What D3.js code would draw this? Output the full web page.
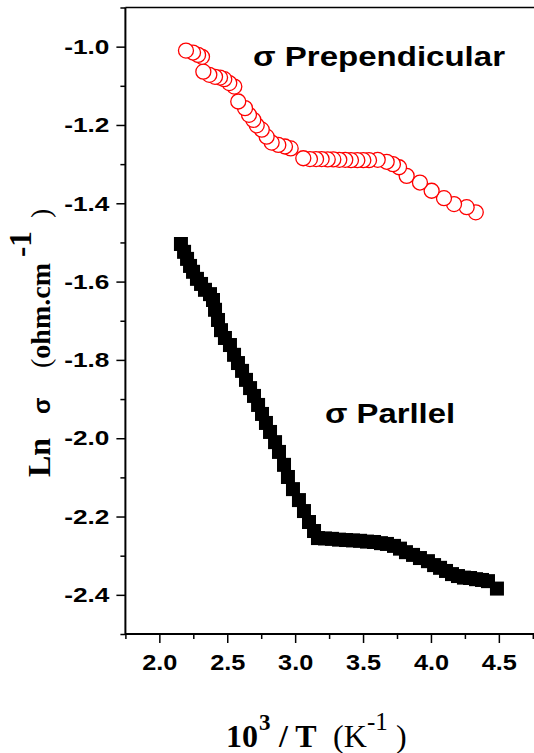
<!DOCTYPE html>
<html><head><meta charset="utf-8">
<script src="https://cdn.jsdelivr.net/npm/d3@7/dist/d3.min.js"></script>
<style>html,body{margin:0;padding:0;background:#fff;}svg{display:block;}</style>
</head><body>
<script>
// ---- data ----
const perpX = [2.196,2.248,2.285,2.314,2.324,2.368,2.410,2.447,2.478,2.515,2.552,2.581,2.631,2.660,2.692,2.717,2.754,2.790,2.827,2.876,2.925,2.967,3.060,3.109,3.154,3.195,3.240,3.281,3.325,3.369,3.411,3.458,3.502,3.544,3.608,3.674,3.720,3.765,3.821,3.919,4.005,4.096,4.170,4.263,4.330];
const perpY = [-1.010,-1.015,-1.021,-1.026,-1.064,-1.072,-1.077,-1.079,-1.083,-1.093,-1.102,-1.140,-1.157,-1.174,-1.187,-1.201,-1.212,-1.230,-1.245,-1.251,-1.255,-1.260,-1.285,-1.287,-1.287,-1.287,-1.288,-1.288,-1.289,-1.289,-1.290,-1.290,-1.290,-1.290,-1.289,-1.294,-1.300,-1.308,-1.330,-1.347,-1.368,-1.387,-1.402,-1.410,-1.423];
const parX = [2.159,2.182,2.204,2.226,2.248,2.277,2.307,2.336,2.373,2.395,2.410,2.432,2.454,2.483,2.520,2.550,2.579,2.609,2.638,2.668,2.697,2.727,2.756,2.785,2.815,2.852,2.881,2.918,2.947,2.984,3.028,3.065,3.102,3.139,3.168,3.220,3.271,3.323,3.375,3.426,3.478,3.529,3.581,3.632,3.676,3.728,3.772,3.816,3.868,3.919,3.978,4.023,4.067,4.111,4.155,4.199,4.243,4.288,4.332,4.376,4.420,4.486];
const parY = [-1.504,-1.524,-1.542,-1.560,-1.575,-1.593,-1.606,-1.621,-1.632,-1.647,-1.672,-1.698,-1.724,-1.744,-1.762,-1.787,-1.808,-1.828,-1.851,-1.872,-1.892,-1.915,-1.938,-1.961,-1.984,-2.010,-2.035,-2.068,-2.099,-2.130,-2.158,-2.186,-2.214,-2.237,-2.255,-2.256,-2.257,-2.259,-2.260,-2.261,-2.262,-2.264,-2.265,-2.268,-2.270,-2.275,-2.282,-2.291,-2.298,-2.306,-2.314,-2.324,-2.331,-2.339,-2.347,-2.352,-2.356,-2.357,-2.360,-2.362,-2.365,-2.384];
const xDomain = [1.75, 4.75];
const yDomain = [-2.5, -0.9];
const xMajorTicks = [2.0, 2.5, 3.0, 3.5, 4.0, 4.5];
const xMinorTicks = [1.75, 2.25, 2.75, 3.25, 3.75, 4.25, 4.75];
const yMajorTicks = [-2.4, -2.2, -2.0, -1.8, -1.6, -1.4, -1.2, -1.0];
const yMinorTicks = [-2.5, -2.3, -2.1, -1.9, -1.7, -1.5, -1.3, -1.1, -0.9];
const labelPerp = "σ Prependicular";
const labelPar = "σ Parllel";

// ---- layout ----
const W = 534, H = 753;
const svg = d3.select("body").append("svg").attr("width", W).attr("height", H)
  .style("font-family", "'Liberation Sans', Arial, sans-serif");
svg.append("rect").attr("width", W).attr("height", H).attr("fill", "#fff");

const x = d3.scaleLinear().domain(xDomain).range([125.4, 532.8]);
const y = d3.scaleLinear().domain(yDomain).range([634, 7.5]);
const fmt = d => d3.format(".1f")(d).replace("\u2212", "-");

// top frame line
svg.append("line").attr("x1", x(xDomain[0])).attr("x2", W).attr("y1", y(yDomain[1])).attr("y2", y(yDomain[1]))
  .attr("stroke", "#000").attr("stroke-width", 1.5);

// x axis
const SXx = 1.15;
const gx = svg.append("g").attr("transform", `translate(0,${y(yDomain[0])})`);
gx.append("g").call(d3.axisBottom(x).tickValues(xMinorTicks).tickSize(5).tickFormat(""))
  .call(g => g.select(".domain").remove());
gx.append("g").call(d3.axisBottom(x).tickValues(xMajorTicks).tickSize(9).tickPadding(11).tickFormat(fmt))
  .call(g => g.select(".domain").remove());
gx.append("line").attr("x1", x(xDomain[0])).attr("x2", W).attr("stroke", "#000").attr("stroke-width", 2);
gx.selectAll(".tick line").attr("stroke-width", 1.5);
gx.selectAll(".tick text").attr("font-size", 22).attr("font-weight", "bold")
  .attr("font-family", "'Liberation Sans', Arial, sans-serif").attr("fill", "#000")
  .attr("dy", "0.71em").attr("transform", `scale(${SXx},1)`);

// y axis
const SXy = 1.25;
const gy = svg.append("g").attr("transform", `translate(${x(xDomain[0])},0)`);
gy.append("g").call(d3.axisLeft(y).tickValues(yMinorTicks).tickSize(5).tickFormat(""))
  .call(g => g.select(".domain").remove());
gy.append("g").call(d3.axisLeft(y).tickValues(yMajorTicks).tickSize(9).tickPadding(16).tickFormat(fmt))
  .call(g => g.select(".domain").remove());
gy.append("line").attr("y1", y(yDomain[0]) + 1).attr("y2", y(yDomain[1])).attr("stroke", "#000").attr("stroke-width", 2);
gy.selectAll(".tick line").attr("stroke-width", 1.5);
gy.selectAll(".tick text").attr("font-size", 21).attr("font-weight", "bold")
  .attr("font-family", "'Liberation Sans', Arial, sans-serif").attr("fill", "#000")
  .attr("x", -16 / SXy).attr("transform", `scale(${SXy},1)`);

// red open circles (Perpendicular)
const perp = perpX.map((v, i) => ({x: v, y: perpY[i]}));
svg.append("g").selectAll("circle").data(perp.slice().reverse()).join("circle")
  .attr("cx", d => x(d.x)).attr("cy", d => y(d.y)).attr("r", 7.5)
  .attr("fill", "#fff").attr("stroke", "#ff0000").attr("stroke-width", 1.3);

// black squares (Parallel)
const par = parX.map((v, i) => ({x: v, y: parY[i]}));
const S = 14;
svg.append("g").selectAll("rect").data(par).join("rect")
  .attr("x", d => x(d.x) - S / 2).attr("y", d => y(d.y) - S / 2)
  .attr("width", S).attr("height", S).attr("fill", "#000");

// annotations
svg.append("text").attr("x", 253).attr("y", 66).attr("font-size", 27).attr("font-weight", "bold")
  .attr("textLength", 252).attr("lengthAdjust", "spacingAndGlyphs").text(labelPerp);
svg.append("text").attr("x", 325).attr("y", 423).attr("font-size", 27).attr("font-weight", "bold")
  .attr("textLength", 130).attr("lengthAdjust", "spacingAndGlyphs").text(labelPar);

// y title
const yt = svg.append("text").attr("transform", "rotate(-90)").attr("y", 50)
  .attr("font-family", "'Liberation Serif', 'Times New Roman', serif").attr("fill", "#000");
yt.append("tspan").attr("x", -477).attr("font-size", 32).attr("font-weight", "bold").text("Ln");
yt.append("tspan").attr("x", -414).attr("font-size", 24).attr("font-weight", "bold")
  .attr("font-family", "'Liberation Sans', Arial, sans-serif").text("σ");
yt.append("tspan").attr("x", -368).attr("font-size", 28).text("(");
yt.append("tspan").attr("font-size", 28).attr("font-weight", "bold").text("ohm.cm");
yt.append("tspan").attr("x", -257).attr("dy", -19).attr("font-size", 31).attr("font-weight", "bold").text("-1");
yt.append("tspan").attr("x", -218).attr("dy", 19).attr("font-size", 28).text(")");

// x title
const xt = svg.append("text").attr("y", 747)
  .attr("font-family", "'Liberation Serif', 'Times New Roman', serif").attr("fill", "#000");
xt.append("tspan").attr("x", 226).attr("font-size", 32).attr("font-weight", "bold").text("10");
xt.append("tspan").attr("x", 259).attr("dy", -17).attr("font-size", 23).attr("font-weight", "bold").text("3");
xt.append("tspan").attr("x", 279).attr("dy", 17).attr("font-size", 32).attr("font-weight", "bold").text("/ T");
xt.append("tspan").attr("x", 333).attr("font-size", 32).text("(K");
xt.append("tspan").attr("x", 367).attr("dy", -17).attr("font-size", 25).text("-1");
xt.append("tspan").attr("x", 396).attr("dy", 17).attr("font-size", 32).text(")");
</script>
</body></html>
